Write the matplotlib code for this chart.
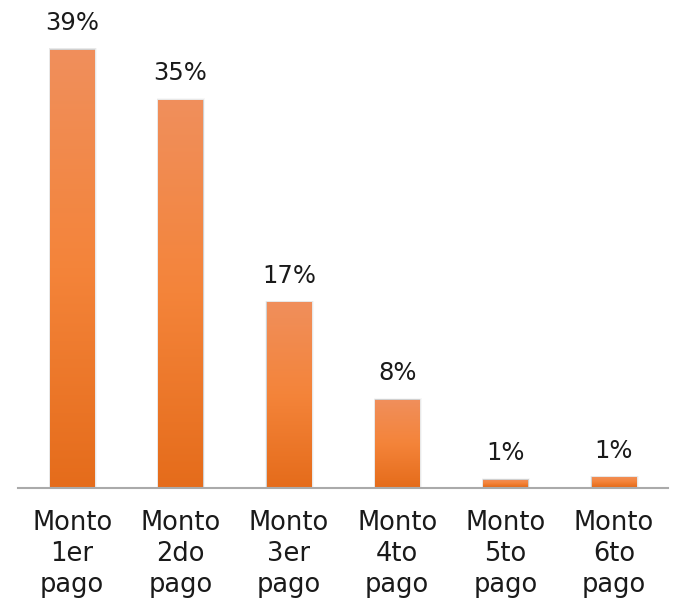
import numpy as np
import matplotlib
matplotlib.use('Agg')
import matplotlib.pyplot as plt
from matplotlib import patheffects as pe

# data
categories = ['Monto\n1er\npago', 'Monto\n2do\npago', 'Monto\n3er\npago',
              'Monto\n4to\npago', 'Monto\n5to\npago', 'Monto\n6to\npago']
values = [39.0, 34.5, 16.5, 7.8, 0.7, 0.9]
pct_labels = ['39%', '35%', '17%', '8%', '1%', '1%']

plt.rcParams['font.family'] = ['DejaVu Sans']

fig = plt.figure(figsize=(6.76, 6.02), dpi=100)
ax = fig.add_axes([18/676, (602-487.5)/602, 650/676, 487.5/602])
ax.set_xlim(-0.5, len(values) - 0.5)
ax.set_ylim(0, 487.5/11.23)

x = np.arange(len(values))
bars = ax.bar(x, values, width=0.41, color='none', zorder=2)

# vertical gradient: lighter on top, darker at base
grad = np.linspace(0, 1, 256).reshape(-1, 1)
cmap = matplotlib.colors.LinearSegmentedColormap.from_list('o', ['#e56c1b', '#f4843a', '#f08f5c'])
for b in bars:
    x0, y0 = b.get_x(), b.get_y()
    w, h = b.get_width(), b.get_height()
    # soft shadow behind bar
    for k, a in enumerate([0.10, 0.06, 0.03]):
        d = 0.008 * (k + 1)
        ax.add_patch(plt.Rectangle((x0 - d / 2, y0), w + d * 1.5, h + 0.05 * (k + 1),
                                   color='#000000', alpha=a, zorder=1, lw=0))
    im = ax.imshow(grad, extent=[x0, x0 + w, y0, y0 + h], origin='lower',
                   aspect='auto', cmap=cmap, zorder=2)
    im.set_clip_path(b)

for xi, v, lab in zip(x, values, pct_labels):
    ax.text(xi, v + 1.3, lab, ha='center', va='bottom', fontsize=17.5, color='#1a1a1a')

ax.set_xticks(x)
ax.set_xticklabels(categories, fontsize=18.5, color='#1a1a1a', linespacing=1.25)
ax.tick_params(axis='x', length=0, pad=16)
ax.set_yticks([])
for s in ['top', 'right', 'left']:
    ax.spines[s].set_visible(False)
ax.spines['bottom'].set_color('#aaaaaa')
ax.spines['bottom'].set_linewidth(1.5)
ax.spines['bottom'].set_zorder(3)

fig.savefig('out.png', dpi=100)
